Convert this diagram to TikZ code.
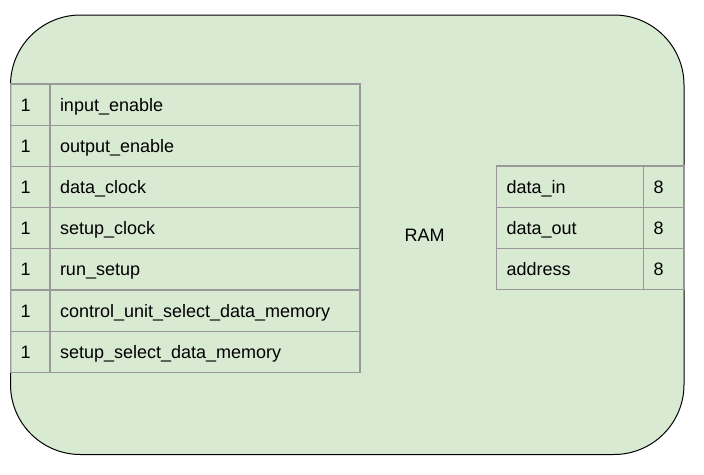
\documentclass[tikz,border=0pt]{standalone}
\usepackage{fontspec}
\setmainfont{Liberation Sans}
\usepackage{tikz}
\usetikzlibrary{positioning}
\definecolor{ramfill}{RGB}{217,234,211}
\definecolor{tablegray}{RGB}{153,153,153}
\tikzset{
cell/.style={rectangle,draw=tablegray,line width=1.1pt,outer sep=0pt,inner xsep=10pt,inner ysep=0pt,
  minimum height=41.2pt,text height=13pt,text depth=0pt,align=left,anchor=north west},
bitcell/.style={cell,text width=19.5pt},
namecell/.style={cell,text width=290pt},
portcell/.style={cell,text width=127pt},
widthcell/.style={cell,text width=21pt},
ram-box/.style={draw=black,line width=1pt,fill=ramfill,rounded corners=70pt}
}
\begin{document}
\begin{tikzpicture}[x=1pt,y=-1pt]
    \fontsize{18}{21}\selectfont
    \useasboundingbox (0,0) rectangle (704,474);
    {
      \draw[ram-box] (10.5,15) rectangle (684,454.5);
      \node(ram) at (424.5,235.3) {RAM};
      %
      \node[bitcell](b1) at (10.5,84) {1};
      \node[namecell, right=0pt of b1](n1) {input\_enable};
      \node[bitcell, below=0pt of b1](b2) {1};
      \node[namecell, right=0pt of b2](n2) {output\_enable};
      \node[bitcell, below=0pt of b2](b3) {1};
      \node[namecell, right=0pt of b3](n3) {data\_clock};
      \node[bitcell, below=0pt of b3](b4) {1};
      \node[namecell, right=0pt of b4](n4) {setup\_clock};
      \node[bitcell, below=0pt of b4](b5) {1};
      \node[namecell, right=0pt of b5](n5) {run\_setup};
      \node[bitcell, below=0pt of b5](b6) {1};
      \node[namecell, right=0pt of b6](n6) {control\_unit\_select\_data\_memory};
      \node[bitcell, below=0pt of b6](b7) {1};
      \node[namecell, right=0pt of b7](n7) {setup\_select\_data\_memory};
      %
      \node[portcell](p1) at (496.5,166) {data\_in};
      \node[widthcell, right=0pt of p1](w1) {8};
      \node[portcell, below=0pt of p1](p2) {data\_out};
      \node[widthcell, right=0pt of p2](w2) {8};
      \node[portcell, below=0pt of p2](p3) {address};
      \node[widthcell, right=0pt of p3](w3) {8};
    }
  \end{tikzpicture}
\end{document}
